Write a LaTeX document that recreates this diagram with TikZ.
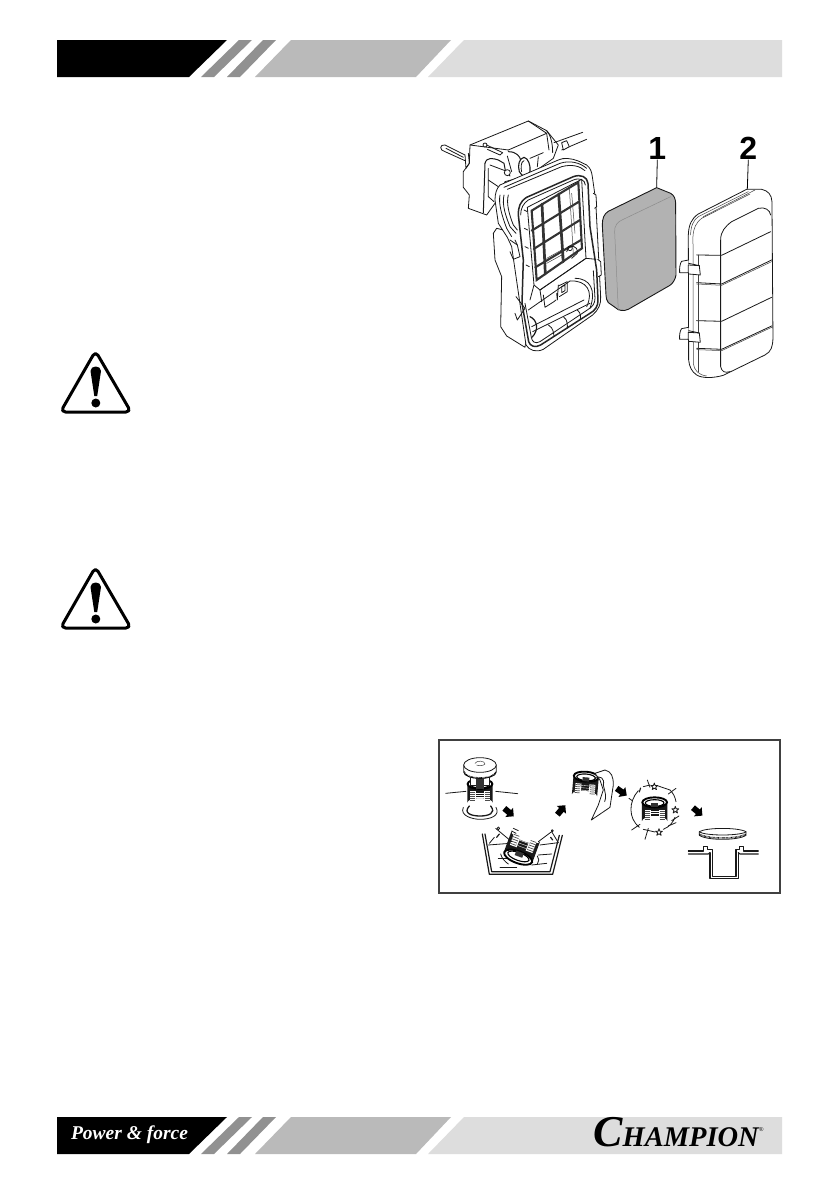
\documentclass[tikz,border=0pt]{standalone}
\usepackage{fontspec}
\setmainfont{Liberation Serif}
\newfontfamily\labelfont{Liberation Sans}
\definecolor{bandgrayA}{HTML}{919191}
\definecolor{bandgrayB}{HTML}{BABABA}
\definecolor{bandgrayC}{HTML}{DDDDDD}
\definecolor{foam}{HTML}{B2B2B2}
\tikzset{
  ln/.style={draw=black!90,line width=.8pt,line join=round,line cap=round},
  thin ln/.style={draw=black!75,line width=.5pt,line join=round,line cap=round},
  hv/.style={draw=black!85,line width=1.5pt,line join=round,line cap=round},
  grid ln/.style={draw=black!80,line width=2.1pt,line cap=round},
  partno/.style={font=\labelfont\bfseries\fontsize{32}{32}\selectfont,inner sep=0pt},
  pics/basket/.style={code={
    \fill[white] (-38,-28) -- (-38,28) arc[start angle=180,end angle=360,x radius=38,y radius=14] -- (38,-28) -- cycle;
    \fill[black!90] (-38,-28) -- (-38,28) arc[start angle=180,end angle=360,x radius=38,y radius=14] -- (38,-28) -- cycle;
    \fill[white] (-30,-6) rectangle (-15,24);
    \fill[white] (15,-6) rectangle (30,24);
    \fill[white] (-15,-6) rectangle (-12,34);
    \fill[white] (12,-6) rectangle (15,34);
    \foreach \yy in {-2,4,...,22}{\draw[black!70,line width=.7pt] (-30,\yy)--(-15,\yy);\draw[black!70,line width=.7pt] (15,\yy)--(30,\yy);}
    \foreach \yy in {-1,6,...,34}{\draw[white,line width=.35pt] (-12,\yy)--(12,\yy);}
    \fill[white] (0,-28) ellipse[x radius=38,y radius=16];
    \draw[black,line width=1.9pt] (0,-28) ellipse[x radius=37,y radius=15];
    \draw[black,line width=1.1pt] (0,-26) ellipse[x radius=28,y radius=10];
    \fill[black!80] (-10,-26) rectangle (10,-14);
  }},
  pics/blockarrow/.style={code={
    \fill[black] (-17,-9) -- (2,-9) -- (2,-18) -- (20,0) -- (2,18) -- (2,9) -- (-17,9) -- cycle;
  }},
  pics/sparkle/.style={code={
    \draw[ln,fill=white] (0,-11) -- (2.6,-3.5) -- (10.4,-3.4) -- (4.2,1.3) -- (6.5,8.9) -- (0,4.4) -- (-6.5,8.9) -- (-4.2,1.3) -- (-10.4,-3.4) -- (-2.6,-3.5) -- cycle;
  }}
}
\begin{document}
\begin{tikzpicture}[x=1pt,y=-1pt]
\useasboundingbox (0,0) rectangle (839,1191);
\fill[white] (0,0) rectangle (839,1191);

% header band
\fill[black] (57,40) -- (227,40) -- (189,77) -- (57,77) -- cycle;
\fill[bandgrayA] (239,40) -- (252,40) -- (214,77) -- (201,77) -- cycle;
\fill[bandgrayA] (263,40) -- (276,40) -- (240,77) -- (227,77) -- cycle;
\fill[bandgrayB] (291,40) -- (451,40) -- (416,77) -- (255,77) -- cycle;
\fill[bandgrayC] (464,40) -- (782,40) -- (782,77) -- (428,77) -- cycle;

% footer band
\fill[black] (57,1117) -- (227,1117) -- (189,1154) -- (57,1154) -- cycle;
\fill[bandgrayA] (239,1117) -- (252,1117) -- (214,1154) -- (201,1154) -- cycle;
\fill[bandgrayA] (263,1117) -- (276,1117) -- (240,1154) -- (227,1154) -- cycle;
\fill[bandgrayB] (291,1117) -- (451,1117) -- (416,1154) -- (255,1154) -- cycle;
\fill[bandgrayC] (464,1117) -- (782,1117) -- (782,1154) -- (428,1154) -- cycle;
\node[white,font=\bfseries\itshape\fontsize{19.5}{20}\selectfont,inner sep=0pt] (slogan) at (129.5,1135) {Power \& force};
\node[black,font=\bfseries\itshape\fontsize{28.5}{28}\selectfont,inner sep=0pt,anchor=base east] (brand) at (759,1146) {{\fontsize{44}{44}\selectfont C}HAMPION};
\node[black,font=\fontsize{6}{6}\selectfont,inner sep=0pt,anchor=west] (reg) at (759,1130) {®};

% warning triangles
\foreach \dy in {0,216}{
\begin{scope}[yshift=-\dy pt]
  \draw[black,line width=3pt,rounded corners=5pt,line join=round] (95.5,351) -- (131,412) -- (60.5,412) -- cycle;
  \fill[black] (90.5,371) .. controls (90.5,365) and (101,365) .. (101,371) -- (97.2,396) -- (94.3,396) -- cycle;
  \fill[black] (95.8,403) circle[radius=4.5];
\end{scope}}

% air filter illustration (coordinates: 3x zoom of region at 430,100)
\begin{scope}[shift={(430,100)},x=.3333pt,y=-.3333pt]
  % rod at left
  \draw[ln,fill=white] (105,165) -- (45,135) .. controls (28,132) and (28,152) .. (45,155) -- (105,182);
  \draw[ln] (48,145) -- (100,172);
  % upper engine bracket
  \draw[ln,fill=white] (120,135) -- (295,63) -- (350,92) -- (385,135) -- (370,175) -- (300,225) -- (225,245) -- (195,310) -- (170,345) -- (115,325) -- (118,285) -- (100,262) -- (100,215) -- (118,190) -- cycle;
  \draw[ln] (235,150) -- (350,100) -- (295,63);
  \draw[ln] (120,135) -- (235,150);
  \draw[ln] (350,100) -- (357,150);
  \draw[ln] (350,92) .. controls (362,105) and (368,130) .. (368,158);
  \draw[ln] (105,165) -- (108,205) -- (118,190) -- (115,160);
  % hook and slot
  \draw[ln,line width=1pt] (165,190) -- (160,338);
  \draw[ln,line width=1pt] (165,190) .. controls (170,170) and (190,175) .. (205,180) -- (222,190) -- (228,222);
  \draw[ln] (180,195) -- (225,212) -- (240,228);
  \draw[ln] (175,205) -- (175,290) -- (192,305);
  \draw[ln] (175,240) -- (205,260);
  \draw[ln,fill=white] (165,135) circle[radius=6];
  \draw[ln] (170,135) -- (218,158) -- (210,165) -- (172,148);
  \draw[ln,line width=1pt] (235,155) .. controls (260,155) and (270,170) .. (272,180);
  \draw[ln] (232,168) -- (245,215);
  \draw[ln] (325,170) -- (322,200);
  \draw[ln] (300,175) -- (340,158);
  \draw[ln,line width=1.1pt,fill=white] (282,172) .. controls (268,175) and (262,195) .. (268,215) .. controls (275,232) and (295,232) .. (300,215) .. controls (302,195) and (295,175) .. (282,172) -- cycle;
  \draw[ln] (282,182) .. controls (272,185) and (272,205) .. (275,215);
  \draw[ln,fill=white] (232,218) circle[radius=9];
  % tube
  \draw[ln] (372,128) -- (458,97);
  \draw[ln] (395,150) -- (470,118);
  \draw[ln,fill=white] (395,128) -- (410,122) -- (418,140) -- (400,150) -- cycle;
  % housing body behind
  \draw[ln,fill=white] (200,385) -- (190,400) -- (195,480) -- (215,530) -- (212,680) -- (230,708) -- (285,742) -- (300,640) -- (260,400) -- cycle;
  % rubber lip and outer frame
  \draw[ln,fill=white] (210,255) -- (385,180) .. controls (400,172) and (425,175) .. (445,183) -- (470,195) .. controls (482,205) and (485,215) .. (487,230) -- (497,300) -- (512,590) .. controls (514,612) and (505,630) .. (488,645) -- (340,748) .. controls (320,758) and (298,752) .. (288,735) -- (245,440) -- (232,412) -- (205,370) -- (195,300) .. controls (195,280) and (200,265) .. (210,255) -- cycle;
  \draw[ln] (222,262) -- (390,190) .. controls (420,180) and (450,188) .. (470,205);
  \draw[ln] (232,268) -- (395,200) .. controls (425,192) and (450,198) .. (465,212);
  \draw[ln] (210,285) .. controls (205,310) and (215,345) .. (230,385) -- (245,410);
  \draw[ln] (222,285) .. controls (215,315) and (228,350) .. (240,380) -- (258,400);
  \draw[ln] (235,285) .. controls (228,310) and (238,345) .. (250,375) -- (262,390);
  % heavy inner opening edge
  \draw[hv] (265,345) .. controls (265,320) and (270,305) .. (290,292) -- (430,230) .. controls (452,222) and (472,230) .. (474,250) -- (480,380) -- (500,510) -- (504,600) .. controls (505,618) and (495,632) .. (480,640) -- (332,735) .. controls (315,745) and (300,738) .. (296,725) -- (276,610) -- (280,480) -- cycle;
  \draw[ln] (272,345) .. controls (272,325) and (280,310) .. (295,300) -- (430,240) .. controls (450,232) and (465,240) .. (466,255);
  \draw[ln] (490,512) -- (495,595) .. controls (495,610) and (488,620) .. (475,628) -- (330,725) .. controls (315,733) and (306,725) .. (304,712) -- (285,610);
  % grid panel
  \draw[ln,fill=white] (292,322) -- (455,238) -- (468,475) -- (330,570) -- (312,555) -- cycle;
  \draw[grid ln] (305,332) -- (445,247) -- (456,445) -- (320,540) -- cycle;
  \draw[grid ln] (305,392) -- (447,305);
  \draw[grid ln] (311,447) -- (450,360);
  \draw[grid ln] (316,502) -- (453,420);
  \draw[grid ln,line width=2.7pt] (336,312) -- (346,522);
  \draw[grid ln,line width=2.7pt] (386,282) -- (400,485);
  \draw[thin ln] (418,262) -- (430,462);
  \draw[thin ln] (425,280) -- (435,400);
  \draw[thin ln] (350,475) -- (395,450);
  \draw[thin ln] (350,490) -- (395,465) -- (398,490);
  \draw[ln] (410,455) .. controls (418,430) and (445,435) .. (442,460) -- (425,475);
  \draw[ln] (420,445) circle[radius=7];
  % small pegs left of panel
  \draw[ln] (282,330) -- (292,335);
  \draw[ln] (283,385) -- (293,390);
  \draw[ln] (285,440) -- (295,445);
  \draw[ln] (288,495) -- (298,500);
  % left flange
  \draw[ln] (240,420) -- (262,435) -- (270,470) -- (250,478) -- (240,455);
  \draw[ln] (255,420) -- (262,435);
  \draw[ln] (258,590) -- (285,625) -- (262,660) -- (255,640);
  % lower housing interior
  \draw[ln] (330,570) -- (468,475) -- (498,478);
  \draw[ln] (295,630) -- (420,543);
  \draw[ln] (300,600) -- (312,555);
  \draw[ln] (330,570) -- (335,605);
  \draw[ln] (340,585) -- (345,622) -- (372,605) -- (378,600);
  \draw[ln] (380,580) -- (382,600) -- (385,555);
  \draw[ln] (385,558) -- (412,545) -- (412,575) -- (388,590);
  \draw[ln] (395,560) -- (405,556) -- (405,572) -- (395,578) -- cycle;
  \draw[ln] (420,543) .. controls (470,540) and (492,575) .. (470,620);
  \draw[ln] (435,535) .. controls (480,535) and (500,570) .. (480,625);
  \draw[ln] (305,680) -- (462,600);
  \draw[ln] (308,695) -- (480,610);
  \draw[ln] (355,675) .. controls (372,685) and (370,700) .. (372,708);
  \draw[ln] (400,650) .. controls (415,660) and (412,680) .. (412,685);
  \draw[ln] (442,630) .. controls (455,640) and (452,655) .. (450,660);
  \draw[ln,line width=1.2pt] (300,650) .. controls (322,660) and (328,690) .. (306,712);
  % right tabs on housing
  \draw[ln,fill=white] (490,280) -- (498,285) -- (500,320) -- (494,325);
  \draw[ln,fill=white] (503,478) -- (512,485) -- (514,525) -- (505,530);

  % foam element
  \draw[ln,line width=.9pt,fill=foam] (680,263) -- (722,280) .. controls (733,287) and (736,295) .. (737,310) -- (738,525) .. controls (736,540) and (728,550) .. (720,556) -- (595,628) .. controls (580,635) and (565,632) .. (555,622) -- (535,608) .. controls (530,600) and (528,595) .. (528,585) -- (517,375) .. controls (517,355) and (522,342) .. (535,334) -- cycle;
  \draw[black!45,line width=.5pt] (722,290) -- (580,358) .. controls (562,365) and (553,378) .. (554,395) -- (565,632);

  % cover
  \draw[ln,fill=white] (950,268) -- (995,268) .. controls (1015,272) and (1025,285) .. (1026,305) -- (1029,715) .. controls (1028,740) and (1024,755) .. (1005,765) -- (880,826) .. controls (850,835) and (815,835) .. (800,825) .. controls (785,815) and (778,800) .. (776,780) -- (775,405) .. controls (776,375) and (785,355) .. (805,342) -- cycle;
  \draw[thin ln] (955,275) -- (805,350) .. controls (790,360) and (782,380) .. (782,405);
  \draw[thin ln] (960,282) -- (815,355) .. controls (800,365) and (790,385) .. (789,410) -- (790,790) .. controls (792,810) and (805,825) .. (830,828);
  \draw[thin ln] (975,270) -- (820,350);
  \draw[ln] (985,325) -- (905,365) .. controls (885,380) and (872,395) .. (872,420) -- (872,800) .. controls (875,815) and (885,820) .. (900,815);
  \draw[ln] (985,325) .. controls (1005,320) and (1020,330) .. (1022,345);
  \draw[ln] (800,465) -- (875,466) -- (1022,395);
  \draw[ln] (800,548) -- (875,552) -- (1025,480);
  \draw[thin ln] (800,552) -- (875,556) -- (1025,485);
  \draw[ln] (800,662) -- (875,664) -- (1025,592);
  \draw[ln] (800,745) -- (875,748) -- (1025,678);
  \draw[thin ln] (800,749) -- (875,752) -- (1025,682);
  \draw[thin ln] (805,465) -- (805,815);
  % clips
  \draw[ln,fill=white] (776,480) -- (755,484) .. controls (750,490) and (748,505) .. (749,518) -- (775,518) -- (775,495) -- (808,497) -- (811,525) -- (776,522) -- (775,518);
  \draw[ln] (776,490) -- (808,497);
  \draw[ln,fill=white] (776,682) -- (755,686) .. controls (750,692) and (748,705) .. (749,718) -- (775,718) -- (775,697) -- (808,699) -- (811,727) -- (776,724) -- (775,718);
  \draw[ln] (776,692) -- (808,699);

  % part numbers and leader lines
  \node[partno] (num1) at (682,145) {1};
  \node[partno] (num2) at (955,145) {2};
  \coordinate (tip1) at (680,263);
  \coordinate (tip2) at (952,268);
  \draw[black,line width=.8pt] (num1.south) -- (tip1);
  \draw[black,line width=.8pt] (num2.south) -- (tip2);
\end{scope}

% fuel strainer panel (coordinates: 3x zoom of region at 430,730)
\begin{scope}[shift={(430,730)},x=.3333pt,y=-.3333pt]
  \draw[draw=black!75,line width=2pt] (26,30) rectangle (1051,489);

  % step 1: cap over strainer in tank
  \draw[ln] (47,190) -- (108,184);
  \draw[ln] (197,184) -- (263,191);
  \draw[ln] (100,232) .. controls (88,258) and (130,268) .. (150,268) .. controls (180,268) and (212,258) .. (198,232);
  \draw[ln,line width=1.3pt] (118,228) .. controls (98,250) and (125,258) .. (150,258) .. controls (175,258) and (200,250) .. (182,228);
  \pic at (150,190) {basket};
  \fill[white] (100,110) rectangle (200,150);
  \draw[ln,fill=white] (122,140) -- (122,165) -- (178,165) -- (178,140) -- cycle;
  \fill[black!80] (138,140) rectangle (162,178);
  \draw[ln,fill=white] (101,105) -- (101,125) .. controls (103,152) and (197,152) .. (199,125) -- (199,105);
  \draw[black,line width=1.6pt,dash pattern=on .6pt off .7pt] (102,125) .. controls (104,150) and (196,150) .. (198,125);
  \draw[ln,fill=white] (150,105) ellipse[x radius=49,y radius=22];
  \draw[thin ln] (135,100) .. controls (140,90) and (165,92) .. (165,102) .. controls (160,108) and (145,108) .. (140,105);

  % step 2: basin
  \draw[ln,line width=1.2pt] (157,312) -- (178,433) -- (368,433) -- (397,316);
  \draw[ln,line width=1.2pt] (165,312) -- (185,425) -- (360,425) -- (388,316);
  \draw[ln] (175,345) -- (240,340);
  \draw[ln] (205,385) -- (230,385);
  \draw[ln] (210,412) -- (260,412);
  \draw[ln] (330,345) -- (385,338);
  \draw[ln] (325,375) -- (365,372);
  \draw[ln] (305,405) -- (350,400);
  \pic[rotate=160,scale=1.2] at (276,350) {basket};
  \draw[ln] (197,295) -- (245,335);
  \draw[ln] (178,340) -- (193,322);
  \draw[ln] (365,305) -- (325,335);
  \draw[ln] (365,305) -- (385,338);
  \draw[ln] (205,295) circle[radius=4];
  \draw[ln] (367,302) circle[radius=3];
  \draw[ln,line width=1.2pt] (200,322) -- (208,312);
  \draw[ln,line width=1.2pt] (362,322) -- (368,330);
  \draw[ln] (250,295) -- (265,302);
  \draw[ln] (245,303) -- (258,310);
  \draw[ln] (322,378) .. controls (328,385) and (328,395) .. (322,402);
  \draw[ln] (212,372) .. controls (215,385) and (225,395) .. (235,402);

  % step 3: wiped with cloth
  \pic[rotate=-5] at (466,168) {basket};
  \draw[ln,fill=white] (495,130) -- (525,120) .. controls (545,125) and (550,140) .. (550,165) -- (540,232) -- (484,270) -- (505,225) -- (520,180) -- (510,150) -- cycle;
  \draw[ln] (520,165) .. controls (526,190) and (530,200) .. (524,215);
  \draw[ln] (495,145) .. controls (510,135) and (525,145) .. (520,165);

  % step 4: drying, sparkles
  \draw[ln] (625,182) .. controls (595,215) and (595,265) .. (628,292);
  \draw[ln] (640,170) -- (660,165);
  \draw[ln] (685,168) -- (720,180) .. controls (730,190) and (735,200) .. (738,215);
  \draw[ln] (735,262) .. controls (730,275) and (720,290) .. (700,298);
  \draw[ln] (640,298) -- (675,306);
  \pic at (674,245) {basket};
  \pic at (673,170) {sparkle};
  \pic at (736,240) {sparkle};
  \pic at (687,307) {sparkle};
  \draw[ln] (652,150) -- (660,172);
  \draw[ln] (715,192) -- (738,175);
  \draw[ln] (608,213) -- (597,205);
  \draw[ln,line width=1.1pt] (632,174) -- (628,186);
  \draw[ln] (605,300) -- (630,283);
  \draw[ln] (645,328) -- (655,295);
  \draw[ln] (725,272) -- (747,258);
  \draw[ln] (715,288) -- (738,278);

  % step 5: cap above neck
  \draw[ln,fill=white] (808,305) .. controls (830,292) and (925,292) .. (948,305) -- (948,316) .. controls (925,332) and (830,332) .. (808,316) -- cycle;
  \draw[black,line width=1.5pt,dash pattern=on .6pt off .7pt] (808,312) .. controls (830,328) and (925,328) .. (948,312);
  \draw[ln] (808,306) .. controls (830,318) and (925,318) .. (948,306);
  \draw[ln,line width=1.1pt] (775,363) -- (820,363) -- (820,350) -- (832,350) -- (832,358) -- (848,358) -- (848,440) -- (918,440) -- (918,358) -- (928,358) -- (928,350) -- (940,350) -- (940,363) -- (985,363);
  \draw[ln,line width=1.1pt] (775,372) -- (835,372) -- (840,368);
  \draw[ln,line width=1.1pt] (925,368) -- (930,372) -- (985,372);
  \draw[ln,line width=1.1pt] (840,368) -- (840,445) -- (925,445) -- (925,368);

  % block arrows
  \pic[rotate=-40] at (236,246) {blockarrow};
  \pic[rotate=50] at (393,241) {blockarrow};
  \pic[rotate=-35] at (574,185) {blockarrow};
  \pic[rotate=-40] at (802,244) {blockarrow};
\end{scope}
\end{tikzpicture}
\end{document}
